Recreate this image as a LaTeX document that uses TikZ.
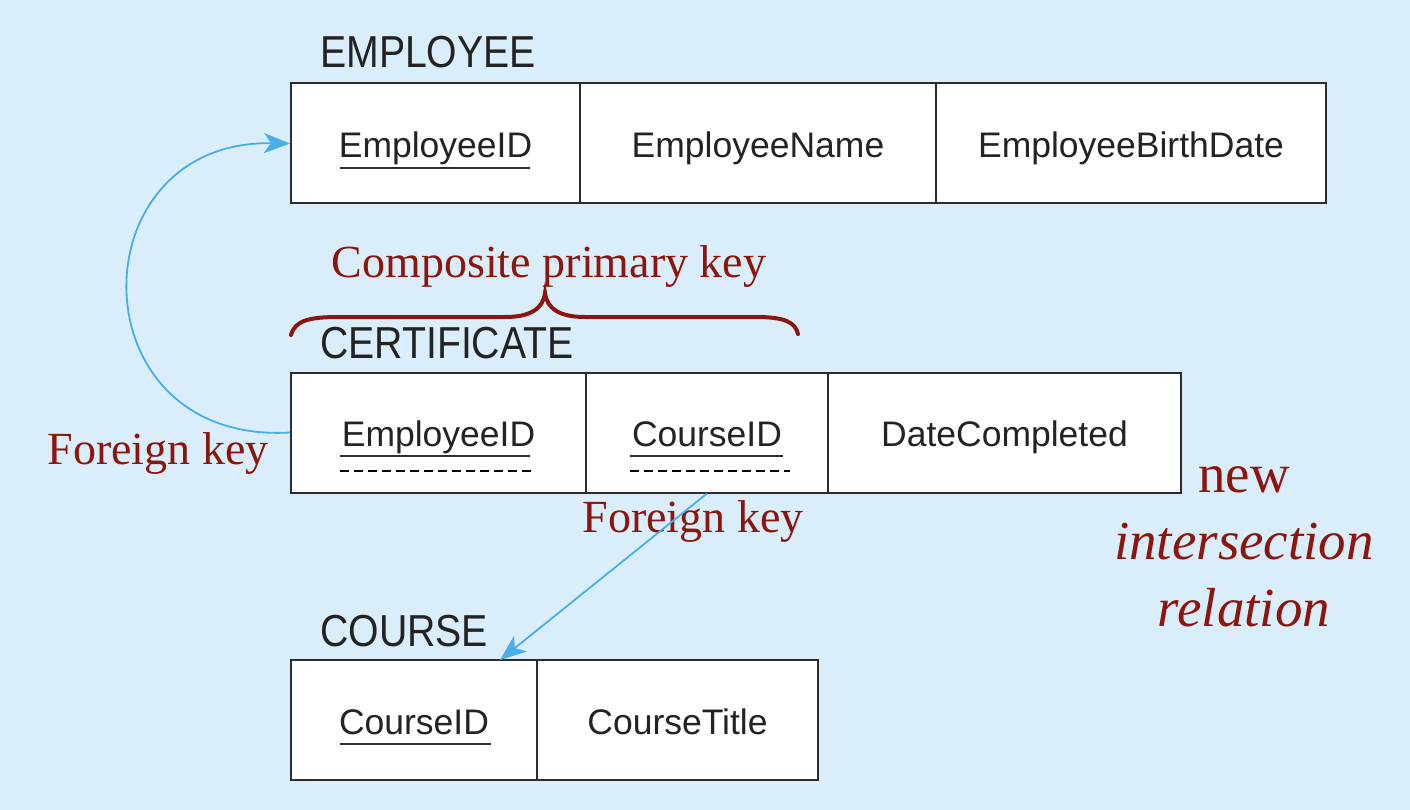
\documentclass[tikz,border=0pt]{standalone}
\usepackage{fontspec}
\setmainfont{Liberation Serif}
\newfontfamily\cellfont{Liberation Sans}
\usetikzlibrary{arrows.meta}
\definecolor{bg}{RGB}{217,238,250}
\definecolor{keyred}{RGB}{140,22,14}
\definecolor{fkblue}{RGB}{74,172,232}
\definecolor{boxline}{RGB}{45,45,45}
\definecolor{txt}{RGB}{35,35,35}
\begin{document}
\begin{tikzpicture}[x=1pt,y=-1pt,
  cellbox/.style={draw=boxline,line width=2pt,fill=white,inner sep=0pt,
    minimum height=120pt,text=txt,text height=30pt,text depth=2pt,
    font=\cellfont\fontsize{35.5}{40}\selectfont},
  title/.style={font=\cellfont\fontsize{40}{44}\selectfont,anchor=base west,text=txt,inner sep=0pt},
  note/.style={font=\fontsize{46}{52}\selectfont,text=keyred,inner sep=0pt},
  fk/.style={draw=fkblue,line width=1.8pt,-{Stealth[length=26pt,width=20pt,inset=7pt]}},
  uline/.style={line width=2pt,draw=boxline},
  dline/.style={line width=1.6pt,draw=black,dash pattern=on 9pt off 5pt}]
\useasboundingbox[fill=bg] (0,0) rectangle (1410,810);

% EMPLOYEE
\node[title] (empT) at (320,68) {\scalebox{0.98}[1.12]{EMPLOYEE}};
\node[cellbox,minimum width=289pt] (empA) at (435.5,143.5) {EmployeeID};
\node[cellbox,minimum width=356pt] (empB) at (758,143.5) {EmployeeName};
\node[cellbox,minimum width=390pt] (empC) at (1131,143.5) {EmployeeBirthDate};
\draw[uline] (340,168) -- (530,168);

% CERTIFICATE
\node[title] (certT) at (320,358) {\scalebox{0.98}[1.12]{CERTIFICATE}};
\node[cellbox,minimum width=295pt] (certA) at (438.5,432.5) {EmployeeID};
\node[cellbox,minimum width=242pt] (certB) at (707,432.5) {CourseID};
\node[cellbox,minimum width=353pt] (certC) at (1004.5,432.5) {DateCompleted};
\draw[uline] (340,456) -- (530,456);
\draw[dline] (340,471) -- (535,471);
\draw[uline] (630,456) -- (783,456);
\draw[dline] (630,471) -- (790,471);

% COURSE
\node[title] (courseT) at (320,646) {\scalebox{0.98}[1.12]{COURSE}};
\node[cellbox,minimum width=246pt] (courseA) at (414,720) {CourseID};
\node[cellbox,minimum width=281pt] (courseB) at (677.5,720) {CourseTitle};
\draw[uline] (340,744) -- (491,744);

% brace and labels
\draw[keyred,line width=4pt,line cap=round]
  (291,335) .. controls (295,320) and (310,317) .. (340,317) -- (505,317)
  .. controls (530,317) and (543,309) .. (545,293)
  .. controls (547,309) and (560,317) .. (585,317) -- (755,317)
  .. controls (785,317) and (795,322) .. (798,334);
\node[note] (cpk) at (549,267) {Composite primary key};
\node[note] (fk1) at (158,454) {Foreign key};
\node[note] (fk2) at (693,522) {Foreign key};
\node[note,font=\fontsize{55}{67}\selectfont,align=center] (newrel) at (1244,547)
  {new\\\textit{intersection}\\\textit{relation}};

% foreign key arrows
\coordinate (courseIn) at (500,660);
\draw[fk] (certA.west) .. controls (75,445) and (75,140) .. (empA.west);
\draw[fk] (certB.south) -- (courseIn);
\end{tikzpicture}
\end{document}
